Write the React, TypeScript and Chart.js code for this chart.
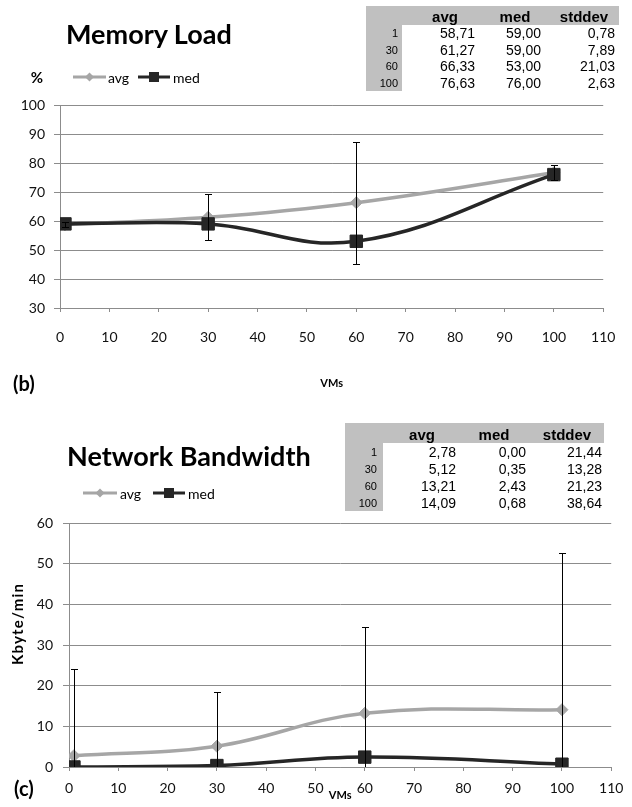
import React, { useEffect, useRef } from "react";
import { Chart, registerables } from "chart.js";

Chart.register(...registerables);

// ---------- data ----------
const VMS = [1, 30, 60, 100];
const ROW_LABELS = ["1", "30", "60", "100"];
const TABLE_HEAD = ["avg", "med", "stddev"];

const MEM_AVG = [58.71, 61.27, 66.33, 76.63];
const MEM_MED = [59.0, 59.0, 53.0, 76.0];
const MEM_STD = [0.78, 7.89, 21.03, 2.63];

const NET_AVG = [2.78, 5.12, 13.21, 14.09];
const NET_MED = [0.0, 0.35, 2.43, 0.68];
const NET_STD = [21.44, 13.28, 21.23, 38.64];

const X_MIN = 0;
const X_MAX = 110;
const X_STEP = 10;
const MEM_Y_MIN = 30;
const MEM_Y_MAX = 100;
const NET_Y_MIN = 0;
const NET_Y_MAX = 60;
const Y_STEP = 10;

// ---------- styles ----------
const AVG_COLOR = "#a6a6a6";
const MED_COLOR = "#262626";
const GRID = "#8c8c8c";
const TABLE_GREY = "#c0c0c0";
const CAL = "Lato, 'Open Sans', sans-serif";
const ARIAL = "'Liberation Sans', Arial, sans-serif";

const fmt = (v: number) => v.toFixed(2).replace(".", ",");

function makeErrorPlugin(xs: number[], avg: number[], std: number[]) {
  return {
    id: "errorBars",
    afterDatasetsDraw(chart: any) {
      const { ctx, chartArea, scales } = chart;
      const xs_ = scales.x;
      const ys_ = scales.y;
      ctx.save();
      ctx.beginPath();
      ctx.rect(chartArea.left, chartArea.top - 1, chartArea.right - chartArea.left, chartArea.bottom - chartArea.top + 1);
      ctx.clip();
      ctx.strokeStyle = "#000";
      ctx.lineWidth = 1;
      xs.forEach((v, i) => {
        const px = Math.round(xs_.getPixelForValue(v)) + 0.5;
        const top = Math.round(ys_.getPixelForValue(avg[i] + std[i])) + 0.5;
        const bot = Math.round(ys_.getPixelForValue(avg[i] - std[i])) + 0.5;
        ctx.beginPath();
        ctx.moveTo(px, top);
        ctx.lineTo(px, bot);
        ctx.moveTo(px - 3.5, top);
        ctx.lineTo(px + 3.5, top);
        ctx.moveTo(px - 3.5, bot);
        ctx.lineTo(px + 3.5, bot);
        ctx.stroke();
      });
      ctx.restore();
    },
  };
}

type ChartSpec = {
  avg: number[];
  med: number[];
  std: number[];
  yMin: number;
  yMax: number;
  padding: { left: number; top: number; right: number; bottom: number };
  yAxisWidth: number;
  yTickLen: number;
  yTickPad: number;
  xAxisHeight: number;
  xTickPad: number;
};

function makeConfig(s: ChartSpec): any {
  const tickFont = { family: CAL, size: 14 };
  return {
    type: "line",
    data: {
      datasets: [
        {
          label: "avg",
          data: VMS.map((x, i) => ({ x, y: s.avg[i] })),
          borderColor: AVG_COLOR,
          backgroundColor: AVG_COLOR,
          borderWidth: 3.5,
          pointStyle: "rectRot",
          pointRadius: 6,
          pointBorderWidth: 1,
          pointBorderColor: AVG_COLOR,
          pointBackgroundColor: AVG_COLOR,
          tension: 0.4,
          order: 2,
        },
        {
          label: "med",
          data: VMS.map((x, i) => ({ x, y: s.med[i] })),
          borderColor: MED_COLOR,
          backgroundColor: MED_COLOR,
          borderWidth: 3.5,
          pointStyle: "rect",
          pointRadius: 8.8,
          pointBorderWidth: 1,
          pointBorderColor: MED_COLOR,
          pointBackgroundColor: MED_COLOR,
          tension: 0.4,
          order: 1,
        },
      ],
    },
    options: {
      animation: false,
      responsive: false,
      maintainAspectRatio: false,
      events: [],
      layout: { padding: s.padding },
      plugins: {
        legend: { display: false },
        tooltip: { enabled: false },
        title: { display: false },
      },
      scales: {
        x: {
          type: "linear",
          min: X_MIN,
          max: X_MAX,
          ticks: {
            stepSize: X_STEP,
            font: tickFont,
            color: "#111",
            padding: s.xTickPad,
            maxRotation: 0,
            autoSkip: false,
          },
          grid: { drawOnChartArea: false, drawTicks: true, tickLength: 4, color: GRID },
          border: { color: GRID, width: 1 },
          title: {
            display: true,
            text: "VMs",
            color: "#000",
            font: { family: CAL, size: 11, weight: "bold" },
            padding: { top: 0, bottom: 0 },
          },
          afterFit: (sc: any) => {
            sc.height = s.xAxisHeight;
          },
        },
        y: {
          type: "linear",
          min: s.yMin,
          max: s.yMax,
          ticks: { stepSize: Y_STEP, font: tickFont, color: "#111", padding: s.yTickPad },
          grid: { color: GRID, tickLength: s.yTickLen, drawTicks: true },
          border: { color: GRID, width: 1 },
          afterFit: (sc: any) => {
            sc.width = s.yAxisWidth;
          },
        },
      },
    },
    plugins: [makeErrorPlugin(VMS, s.avg, s.std)],
  };
}

function Text(props: { x: number; y: number; children: any; style?: any; anchor?: "left" | "center" | "right" }) {
  const a = props.anchor || "left";
  const tx = a === "left" ? "0" : a === "center" ? "-50%" : "-100%";
  return (
    <div
      style={{
        position: "absolute",
        left: props.x,
        top: props.y,
        transform: `translate(${tx}, -50%)`,
        whiteSpace: "nowrap",
        lineHeight: 1,
        ...props.style,
      }}
    >
      {props.children}
    </div>
  );
}

function Legend(props: { y: number; avgX: [number, number]; avgTextX: number; medX: [number, number]; medTextX: number }) {
  const { y, avgX, medX } = props;
  const ac = (avgX[0] + avgX[1]) / 2;
  const mc = (medX[0] + medX[1]) / 2;
  return (
    <>
      <svg style={{ position: "absolute", left: 0, top: y - 10, overflow: "visible" }} width={632} height={20}>
        <line x1={avgX[0]} y1={10} x2={avgX[1]} y2={10} stroke={AVG_COLOR} strokeWidth={3} />
        <polygon points={`${ac - 4.5},10 ${ac},5.5 ${ac + 4.5},10 ${ac},14.5`} fill={AVG_COLOR} />
        <line x1={medX[0]} y1={10} x2={medX[1]} y2={10} stroke={MED_COLOR} strokeWidth={3} />
        <rect x={mc - 5} y={5} width={10} height={10} fill={MED_COLOR} />
      </svg>
      <Text x={props.avgTextX} y={y} style={{ font: `14px ${CAL}`, color: "#000" }}>
        avg
      </Text>
      <Text x={props.medTextX} y={y} style={{ font: `14px ${CAL}`, color: "#000" }}>
        med
      </Text>
    </>
  );
}

type TableSpec = {
  left: number;
  right: number;
  top: number;
  headH: number;
  rowH: number;
  greyRight: number;
  labelRight: number;
  valueRights: number[];
  headCenters: number[];
  cols: number[][];
};

function StatTable(t: TableSpec) {
  const nRows = ROW_LABELS.length;
  const bottom = t.top + t.headH + t.rowH * nRows;
  return (
    <>
      <div style={{ position: "absolute", left: t.left, top: t.top, width: t.right - t.left, height: t.headH, background: TABLE_GREY }} />
      <div style={{ position: "absolute", left: t.left, top: t.top, width: t.greyRight - t.left, height: bottom - t.top, background: TABLE_GREY }} />
      {TABLE_HEAD.map((h, i) => (
        <Text key={h} x={t.headCenters[i]} y={t.top + t.headH / 2 + 0.5} anchor="center" style={{ font: `bold 15px ${ARIAL}`, color: "#000" }}>
          {h}
        </Text>
      ))}
      {ROW_LABELS.map((r, ri) => {
        const cy = t.top + t.headH + t.rowH * (ri + 0.5);
        return (
          <React.Fragment key={r}>
            <Text x={t.labelRight} y={cy} anchor="right" style={{ font: `11px ${ARIAL}`, color: "#000" }}>
              {r}
            </Text>
            {t.cols.map((col, ci) => (
              <Text key={ci} x={t.valueRights[ci]} y={cy} anchor="right" style={{ font: `14px ${ARIAL}`, color: "#000" }}>
                {fmt(col[ri])}
              </Text>
            ))}
          </React.Fragment>
        );
      })}
    </>
  );
}

export default function App() {
  const topRef = useRef<HTMLCanvasElement>(null);
  const botRef = useRef<HTMLCanvasElement>(null);

  useEffect(() => {
    document.body.style.margin = "0";
    const c1 = new Chart(
      topRef.current as HTMLCanvasElement,
      makeConfig({
        avg: MEM_AVG,
        med: MEM_MED,
        std: MEM_STD,
        yMin: MEM_Y_MIN,
        yMax: MEM_Y_MAX,
        padding: { left: 0, top: 105, right: 16, bottom: 10.4 },
        yAxisWidth: 60,
        yTickLen: 6,
        yTickPad: 9,
        xAxisHeight: 81.6,
        xTickPad: 16.6,
      })
    );
    const c2 = new Chart(
      botRef.current as HTMLCanvasElement,
      makeConfig({
        avg: NET_AVG,
        med: NET_MED,
        std: NET_STD,
        yMin: NET_Y_MIN,
        yMax: NET_Y_MAX,
        padding: { left: 0, top: 123, right: 16, bottom: 5.4 },
        yAxisWidth: 69,
        yTickLen: 6,
        yTickPad: 10,
        xAxisHeight: 34.6,
        xTickPad: 8.6,
      })
    );
    return () => {
      c1.destroy();
      c2.destroy();
    };
  }, []);

  return (
    <div style={{ position: "relative", width: 632, height: 807, overflow: "hidden", background: "#fff" }}>
      <canvas ref={topRef} width={632} height={400} style={{ position: "absolute", left: 0, top: 0, display: "block" }} />
      <canvas ref={botRef} width={632} height={407} style={{ position: "absolute", left: 0, top: 400, display: "block" }} />

      {/* Top chart: Memory Load */}
      <Text x={66} y={33} style={{ font: `bold 27px ${CAL}`, color: "#000" }}>
        Memory Load
      </Text>
      <Text x={37} y={77} anchor="center" style={{ font: `bold 15px ${CAL}`, color: "#000" }}>
        %
      </Text>
      <Legend y={77} avgX={[73, 106]} avgTextX={108} medX={[138, 170]} medTextX={173} />
      <StatTable
        left={366}
        right={619}
        top={6}
        headH={19}
        rowH={16.5}
        greyRight={402}
        labelRight={398}
        valueRights={[475, 541, 615]}
        headCenters={[445, 515, 584]}
        cols={[MEM_AVG, MEM_MED, MEM_STD]}
      />
      <Text x={13} y={383} style={{ font: `bold 20px ${CAL}`, color: "#000" }}>
        (b)
      </Text>

      {/* Bottom chart: Network Bandwidth */}
      <Text x={67} y={455} style={{ font: `bold 27px ${CAL}`, color: "#000" }}>
        Network Bandwidth
      </Text>
      <Legend y={493} avgX={[83, 117]} avgTextX={120} medX={[153, 185]} medTextX={188} />
      <StatTable
        left={345}
        right={604}
        top={423}
        headH={20}
        rowH={17}
        greyRight={383}
        labelRight={377}
        valueRights={[456, 526, 602]}
        headCenters={[422, 494, 567]}
        cols={[NET_AVG, NET_MED, NET_STD]}
      />
      <div
        style={{
          position: "absolute",
          left: 17,
          top: 624,
          transform: "translate(-50%, -50%) rotate(-90deg)",
          whiteSpace: "nowrap",
          lineHeight: 1,
          font: `bold 15px ${CAL}`,
          letterSpacing: "1.2px",
          color: "#000",
        }}
      >
        Kbyte/min
      </div>
      <Text x={14} y={788} style={{ font: `bold 20px ${CAL}`, color: "#000" }}>
        (c)
      </Text>
    </div>
  );
}
